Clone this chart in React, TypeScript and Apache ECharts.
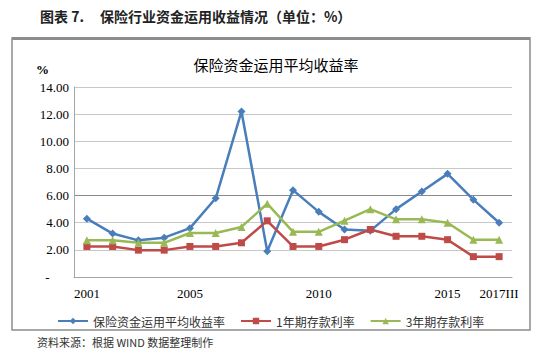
import React, { useEffect, useRef } from "react";
import * as echarts from "echarts";

const categories = ["2001","2002","2003","2004","2005","2006","2007","2008","2009","2010","2011","2012","2013","2014","2015","2016","2017III"];
const shownLabels = ["2001","2005","2010","2015","2017III"];
const insuranceYield = [4.3,3.2,2.7,2.9,3.6,5.8,12.2,1.9,6.4,4.8,3.5,3.4,5.0,6.3,7.6,5.7,4.0];
const deposit1y = [2.25,2.25,1.98,1.98,2.25,2.25,2.52,4.14,2.25,2.25,2.75,3.5,3.0,3.0,2.75,1.5,1.5];
const deposit3y = [2.7,2.7,2.52,2.52,3.24,3.24,3.69,5.4,3.33,3.33,4.15,5.0,4.25,4.25,4.0,2.75,2.75];
const seriesNames = ["保险资金运用平均收益率","1年期存款利率","3年期存款利率"];

export default function App() {
  const ref = useRef<HTMLDivElement>(null);
  useEffect(() => {
    const chart = echarts.init(ref.current!, null, { renderer: "svg" });
    const serif = "'Liberation Serif', 'Times New Roman', serif";
    const cjk = "'Noto Sans CJK SC', sans-serif";
    chart.setOption({
      animation: false,
      backgroundColor: "#ffffff",
      graphic: [
        { type: "text", left: 40, top: 9, style: { text: "图表 7.     保险行业资金运用收益情况（单位：%）", font: "bold 14px " + cjk, fill: "#222" } },
        { type: "rect", shape: { x: 12, y: 38, width: 518, height: 292 }, style: { fill: "none", stroke: "#8c8c8c", lineWidth: 1.5 } },
        { type: "rect", shape: { x: 12, y: 37, width: 518, height: 3 }, style: { fill: "#8c8c8c" } },
        { type: "text", left: 37, top: 336, style: { text: "资料来源：根据 WIND 数据整理制作", font: "11px " + cjk, fill: "#333" } },
        { type: "text", left: 36, top: 63, style: { text: "%", font: "bold 13px " + serif, fill: "#000" } },
      ],
      title: {
        text: "保险资金运用平均收益率",
        left: 271,
        textAlign: "center",
        top: 52,
        textStyle: { fontFamily: cjk, fontSize: 15, fontWeight: "normal", color: "#000" },
      },
      legend: {
        top: 310,
        left: 52,
        width: 480,
        itemWidth: 30,
        itemHeight: 8,
        itemGap: 15,
        textStyle: { fontFamily: cjk, fontSize: 12, color: "#333" },
        data: seriesNames,
      },
      grid: { left: 74, right: 26, top: 87, bottom: 83 },
      xAxis: {
        type: "category",
        data: categories,
        boundaryGap: true,
        axisLine: { lineStyle: { color: "#a6a6a6" } },
        axisTick: { show: false },
        axisLabel: {
          interval: 0,
          margin: 10,
          fontFamily: serif,
          fontSize: 13,
          color: "#000",
          formatter: (v: string) => (shownLabels.includes(v) ? v : ""),
        },
      },
      yAxis: {
        type: "value",
        min: 0,
        max: 14,
        interval: 2,
        axisLine: { show: true, lineStyle: { color: "#a6a6a6" } },
        axisTick: { show: false },
        axisLabel: {
          fontFamily: serif,
          fontSize: 13,
          color: "#000",
          margin: 5,
          formatter: (v: number) => (v === 0 ? "-      " : v.toFixed(2)),
        },
        splitLine: { lineStyle: { color: ["#c8c8c8", "#c8c8c8", "#c8c8c8", "#8a8a8a", "#c8c8c8", "#c8c8c8", "#c8c8c8", "#c8c8c8"] } },
      },
      series: [
        { name: seriesNames[0], type: "line", data: insuranceYield, symbol: "diamond", symbolSize: 8, color: "#4A7EBB", lineStyle: { width: 2.5 } },
        { name: seriesNames[1], type: "line", data: deposit1y, symbol: "rect", symbolSize: 7, color: "#BE4B48", lineStyle: { width: 2.5 } },
        { name: seriesNames[2], type: "line", data: deposit3y, symbol: "triangle", symbolSize: 8, color: "#98B954", lineStyle: { width: 2.5 } },
      ],
    });
    return () => chart.dispose();
  }, []);
  return <div ref={ref} style={{ position: "absolute", left: 0, top: 0, width: 538, height: 360 }} />;
}
